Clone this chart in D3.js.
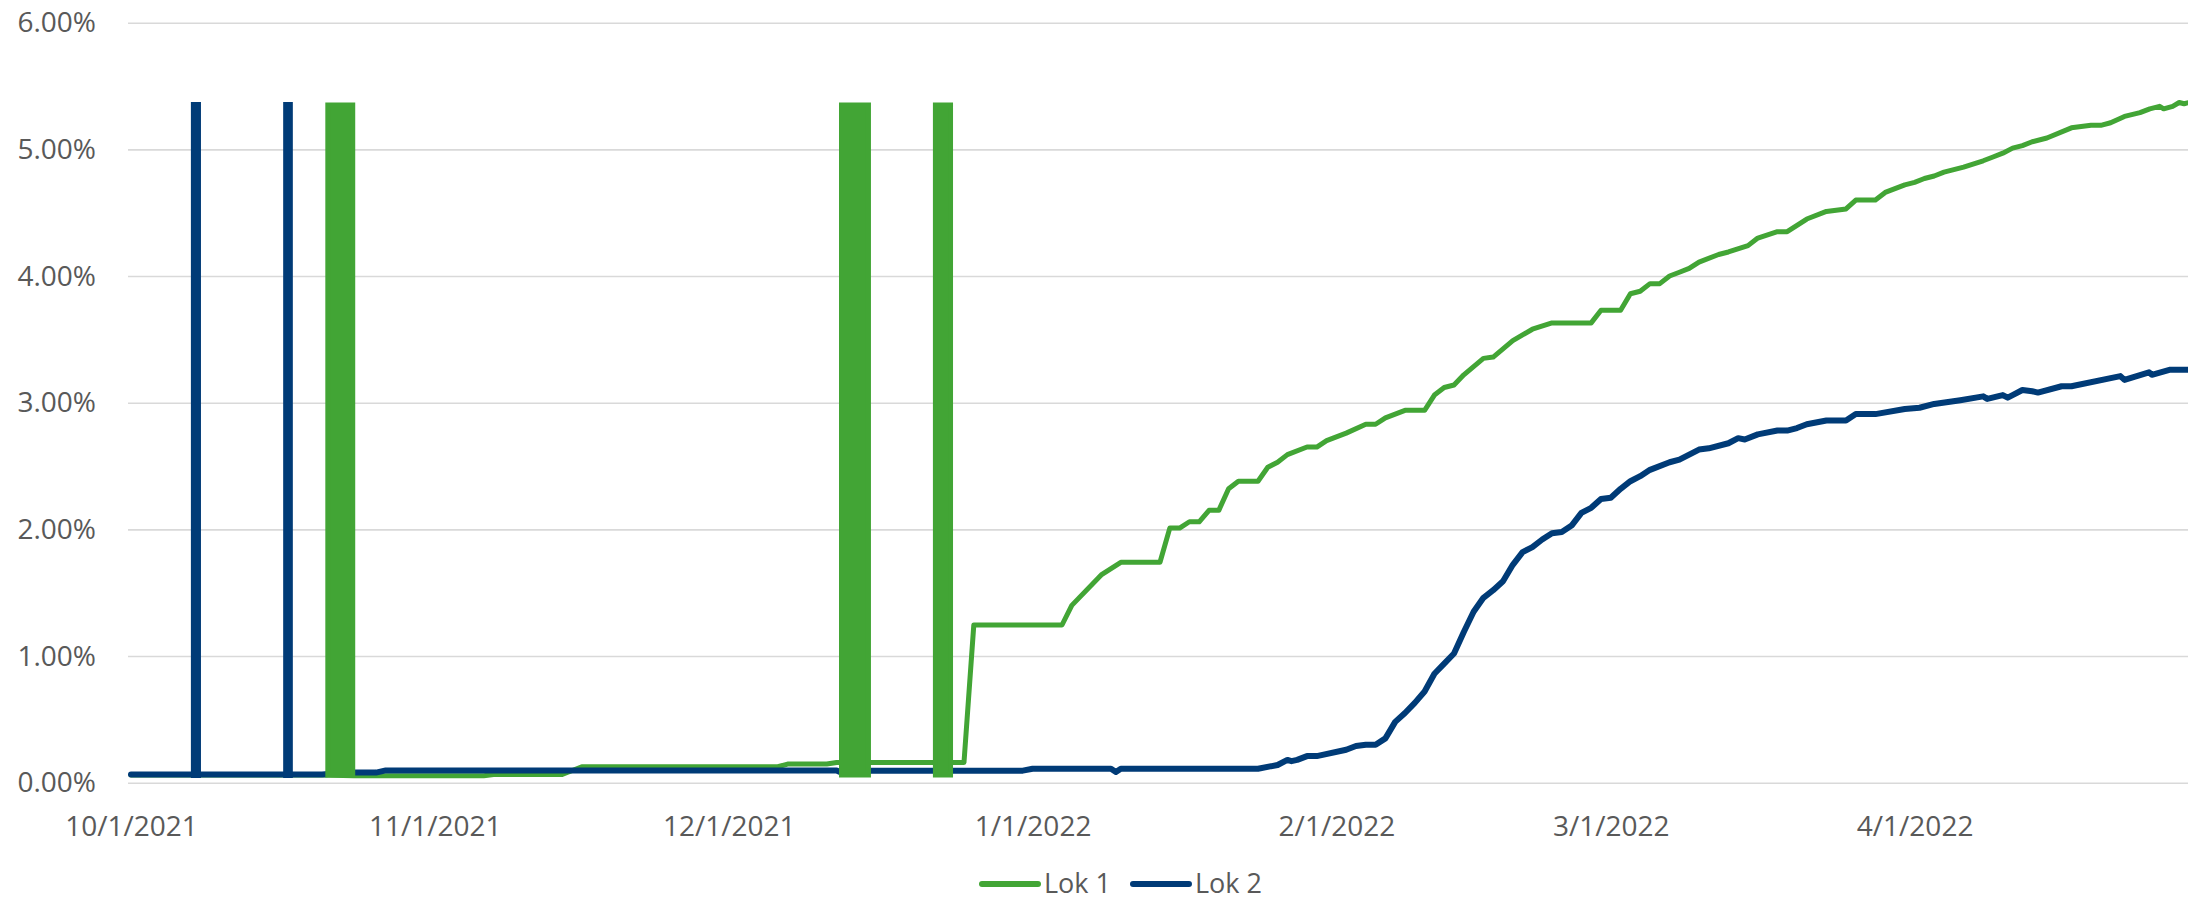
<!DOCTYPE html>
<html>
<head>
<meta charset="utf-8">
<script src="https://cdn.jsdelivr.net/npm/d3@7"></script>
<style>
  html, body { margin: 0; padding: 0; background: #ffffff; }
  svg { display: block; }
  .tick text { font-family: 'Open Sans', sans-serif; font-size: 28px; fill: #595959; }
  .legend text { font-family: 'Open Sans', sans-serif; font-size: 27px; fill: #595959; }
</style>
</head>
<body>
<div id="chart"></div>
<script>
// Chart data
const seriesNames = ['Lok 1', 'Lok 2'];
const yTicks = [0, 1, 2, 3, 4, 5, 6];
const xTickDates = ['2021-10-01', '2021-11-01', '2021-12-01', '2022-01-01', '2022-02-01', '2022-03-01', '2022-04-01'];
const xStart = '2021-10-01';
const xEnd = '2022-04-29';

// values in percent
const lok1 = [
	['2021-10-01', 0.06], ['2021-10-20 12:00', 0.06], ['2021-10-23 18:00', 0.055], ['2021-11-06', 0.055],
	['2021-11-07', 0.065], ['2021-11-14', 0.065], ['2021-11-16', 0.126], ['2021-12-06', 0.126],
	['2021-12-07', 0.147], ['2021-12-11', 0.147], ['2021-12-12', 0.16], ['2021-12-25', 0.16],
	['2021-12-26', 1.245], ['2022-01-04', 1.245], ['2022-01-05', 1.40], ['2022-01-08', 1.64],
	['2022-01-10', 1.74], ['2022-01-14', 1.74], ['2022-01-15', 2.01], ['2022-01-16', 2.01],
	['2022-01-17', 2.06], ['2022-01-18', 2.06], ['2022-01-19', 2.15], ['2022-01-20', 2.15],
	['2022-01-21', 2.32], ['2022-01-22', 2.38], ['2022-01-24', 2.38], ['2022-01-25', 2.49],
	['2022-01-26', 2.53], ['2022-01-27', 2.59], ['2022-01-29', 2.65], ['2022-01-30', 2.65],
	['2022-01-31', 2.70], ['2022-02-02', 2.76], ['2022-02-04', 2.83], ['2022-02-05', 2.83],
	['2022-02-06', 2.88], ['2022-02-08', 2.94], ['2022-02-10', 2.94], ['2022-02-11', 3.06],
	['2022-02-12', 3.12], ['2022-02-13', 3.14], ['2022-02-14', 3.22], ['2022-02-16', 3.35],
	['2022-02-17', 3.36], ['2022-02-19', 3.49], ['2022-02-21', 3.58], ['2022-02-23', 3.63],
	['2022-02-27', 3.63], ['2022-02-28', 3.73], ['2022-03-02', 3.73], ['2022-03-03', 3.86],
	['2022-03-04', 3.88], ['2022-03-05', 3.94], ['2022-03-06', 3.94], ['2022-03-07', 4.00],
	['2022-03-08', 4.03], ['2022-03-09', 4.06], ['2022-03-10', 4.11], ['2022-03-12', 4.17],
	['2022-03-13', 4.19], ['2022-03-15', 4.24], ['2022-03-16', 4.30], ['2022-03-18', 4.35],
	['2022-03-19', 4.35], ['2022-03-21', 4.45], ['2022-03-23', 4.51], ['2022-03-25', 4.53],
	['2022-03-26', 4.60], ['2022-03-28', 4.60], ['2022-03-29', 4.66], ['2022-03-31', 4.72],
	['2022-04-01', 4.74], ['2022-04-02', 4.77], ['2022-04-03', 4.79], ['2022-04-04', 4.82],
	['2022-04-06', 4.86], ['2022-04-08', 4.91], ['2022-04-09', 4.94], ['2022-04-10', 4.97],
	['2022-04-11', 5.01], ['2022-04-12', 5.03], ['2022-04-13', 5.06], ['2022-04-14 12:00', 5.09],
	['2022-04-17', 5.17], ['2022-04-19', 5.19], ['2022-04-20', 5.19], ['2022-04-21', 5.21],
	['2022-04-22 10:00', 5.26], ['2022-04-24', 5.29], ['2022-04-25', 5.32], ['2022-04-26', 5.34],
	['2022-04-26 10:00', 5.32], ['2022-04-27 08:00', 5.34], ['2022-04-28', 5.37],
	['2022-04-28 12:00', 5.36], ['2022-04-29', 5.37]
];

const lok2 = [
	['2021-10-01', 0.065], ['2021-10-20 12:00', 0.065], ['2021-10-23', 0.08], ['2021-10-26', 0.08],
	['2021-10-27', 0.097], ['2021-12-12', 0.097], ['2021-12-12 18:00', 0.07], ['2021-12-15 12:00', 0.095],
	['2021-12-31', 0.095], ['2022-01-01', 0.11], ['2022-01-09', 0.11], ['2022-01-09 12:00', 0.085],
	['2022-01-10', 0.11], ['2022-01-24', 0.11], ['2022-01-26', 0.14], ['2022-01-27', 0.18],
	['2022-01-27 10:00', 0.17], ['2022-01-28', 0.18], ['2022-01-29', 0.21], ['2022-01-30', 0.21],
	['2022-02-02', 0.26], ['2022-02-03', 0.29], ['2022-02-04', 0.30], ['2022-02-05', 0.30],
	['2022-02-06', 0.35], ['2022-02-07', 0.48], ['2022-02-08', 0.55], ['2022-02-09', 0.63],
	['2022-02-10', 0.72], ['2022-02-11', 0.86], ['2022-02-12', 0.94], ['2022-02-13', 1.02],
	['2022-02-14', 1.19], ['2022-02-15', 1.35], ['2022-02-16', 1.46], ['2022-02-17', 1.52],
	['2022-02-18', 1.59], ['2022-02-19', 1.72], ['2022-02-20', 1.82], ['2022-02-21', 1.86],
	['2022-02-22', 1.92], ['2022-02-23', 1.97], ['2022-02-24', 1.98], ['2022-02-25', 2.03],
	['2022-02-26', 2.13], ['2022-02-27', 2.17], ['2022-02-28', 2.24], ['2022-03-01', 2.25],
	['2022-03-02', 2.32], ['2022-03-03', 2.38], ['2022-03-04', 2.42], ['2022-03-05', 2.47],
	['2022-03-07', 2.53], ['2022-03-08', 2.55], ['2022-03-10', 2.63], ['2022-03-11', 2.64],
	['2022-03-13', 2.68], ['2022-03-14', 2.72], ['2022-03-14 16:00', 2.71], ['2022-03-16', 2.75],
	['2022-03-18', 2.78], ['2022-03-19', 2.78], ['2022-03-20', 2.80], ['2022-03-21', 2.83],
	['2022-03-23', 2.86], ['2022-03-25', 2.86], ['2022-03-26', 2.91], ['2022-03-28', 2.91],
	['2022-03-31', 2.95], ['2022-04-01 12:00', 2.96], ['2022-04-03', 2.99], ['2022-04-05 16:00', 3.02],
	['2022-04-08', 3.05], ['2022-04-08 10:00', 3.03], ['2022-04-10', 3.06], ['2022-04-10 12:00', 3.04],
	['2022-04-11', 3.06], ['2022-04-12', 3.10], ['2022-04-13', 3.09], ['2022-04-13 14:00', 3.08],
	['2022-04-16', 3.13], ['2022-04-17', 3.13], ['2022-04-22', 3.21], ['2022-04-22 10:00', 3.18],
	['2022-04-24 22:00', 3.24], ['2022-04-25 05:00', 3.22], ['2022-04-27', 3.26], ['2022-04-29', 3.26]
];

// outage spikes: [from, to], jumping between spikeLow and spikeHigh
const lok1Spikes = [
	['2021-10-21 02:00', '2021-10-23 15:00'],
	['2021-12-12 12:00', '2021-12-15 06:00'],
	['2021-12-22 02:00', '2021-12-23 15:00']
];
const lok2Spikes = [
	['2021-10-07 10:00', '2021-10-07 20:00'],
	['2021-10-16 20:00', '2021-10-17 05:00']
];
const spikeLow = 0.06;
const spikeHigh = 5.35;

(function() {
	'use strict';

	const width = 2188;
	const height = 900;
	const plotLeft = 128;
	const plotTop = 22.7;
	const plotBottom = 782.7;

	const colors = { 'Lok 1': '#42a535', 'Lok 2': '#003b77' };
	const strokes = { 'Lok 1': 5, 'Lok 2': 6 };

	const parseMinute = d3.timeParse('%Y-%m-%d %H:%M');
	const parseDay = d3.timeParse('%Y-%m-%d');
	function parse(s) { return parseMinute(s) || parseDay(s); }

	const svg = d3.select('#chart')
		.append('svg')
		.attr('width', width)
		.attr('height', height)
		.attr('viewBox', [0, 0, width, height]);

	const x = d3.scaleTime()
		.domain([parse(xStart), parse(xEnd)])
		.range([131, 2189]);

	const y = d3.scaleLinear()
		.domain([0, 6])
		.range([plotBottom, plotTop]);

	// Gridlines + y labels
	const yAxis = svg.append('g')
		.attr('transform', 'translate(' + plotLeft + ',0)')
		.call(d3.axisLeft(y)
			.tickValues(yTicks)
			.tickSize(-(width - plotLeft))
			.tickPadding(32)
			.tickFormat(function(d) { return d.toFixed(2) + '%'; }));
	yAxis.select('.domain').remove();
	yAxis.selectAll('.tick line')
		.attr('stroke', '#d9d9d9')
		.attr('stroke-width', 1.6);

	// x labels
	const xAxis = svg.append('g')
		.attr('transform', 'translate(0,' + plotBottom + ')')
		.call(d3.axisBottom(x)
			.tickValues(xTickDates.map(parse))
			.tickSize(0)
			.tickPadding(33)
			.tickFormat(d3.timeFormat('%-m/%-d/%Y')));
	xAxis.select('.domain').remove();

	const line = d3.line()
		.x(function(d) { return x(parse(d[0])); })
		.y(function(d) { return y(d[1]); });

	const seriesData = { 'Lok 1': lok1, 'Lok 2': lok2 };
	const spikeData = { 'Lok 1': lok1Spikes, 'Lok 2': lok2Spikes };

	// Lines (Lok 2 drawn over Lok 1)
	svg.append('g')
		.selectAll('path')
		.data(seriesNames)
		.enter().append('path')
		.attr('fill', 'none')
		.attr('stroke', function(d) { return colors[d]; })
		.attr('stroke-width', function(d) { return strokes[d]; })
		.attr('stroke-linejoin', 'round')
		.attr('stroke-linecap', 'round')
		.attr('d', function(d) { return line(seriesData[d]); });

	// Spikes, drawn last (Lok 2 first, then Lok 1 over everything)
	const spikes = [];
	seriesNames.slice().reverse().forEach(function(name) {
		spikeData[name].forEach(function(s) { spikes.push({ name: name, from: s[0], to: s[1] }); });
	});

	svg.append('g')
		.selectAll('path')
		.data(spikes)
		.enter().append('path')
		.attr('fill', function(d) { return colors[d.name]; })
		.attr('stroke', function(d) { return colors[d.name]; })
		.attr('stroke-width', function(d) { return strokes[d.name]; })
		.attr('stroke-linejoin', 'miter')
		.attr('d', function(d) {
			return line([[d.from, spikeLow], [d.from, spikeHigh], [d.to, spikeHigh], [d.to, spikeLow]]) + 'Z';
		});

	// Legend
	const legend = svg.append('g')
		.attr('class', 'legend')
		.attr('transform', 'translate(982,884)');

	let offset = 0;
	seriesNames.forEach(function(name) {
		const item = legend.append('g').attr('transform', 'translate(' + offset + ',0)');
		item.append('line')
			.attr('x1', 0).attr('x2', 56)
			.attr('y1', 0).attr('y2', 0)
			.attr('stroke', colors[name])
			.attr('stroke-width', 6)
			.attr('stroke-linecap', 'round');
		const label = item.append('text')
			.attr('x', 62)
			.attr('y', 9)
			.text(name);
		offset += 62 + label.node().getComputedTextLength() + 22;
	});
})();
</script>
</body>
</html>
